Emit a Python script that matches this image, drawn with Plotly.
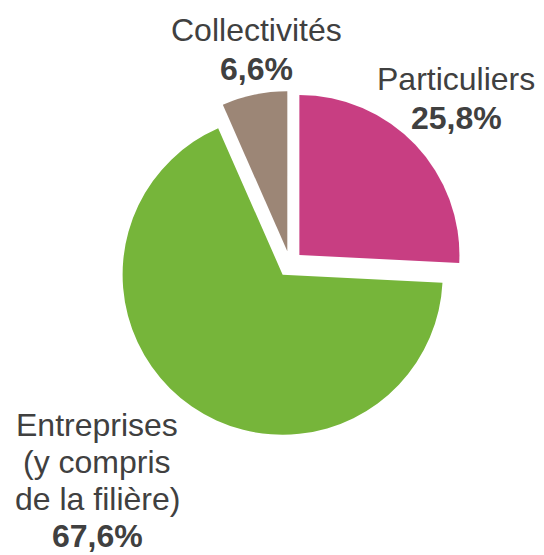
import plotly.graph_objects as go

labels = ["Particuliers", "Entreprises (y compris de la filière)", "Collectivités"]
label_lines = [["Particuliers"], ["Entreprises", "(y compris", "de la filière)"], ["Collectivités"]]
values = [25.8, 67.6, 6.6]
colors = ["#C83E82", "#76B53A", "#9C8676"]
pulls = [0.081, 0.081, 0.081]

# page has an 8px body margin: the figure is drawn 8px in from the window edge
OFF = 8
W, H = 544 - 2 * OFF, 555 - OFF
cx, cy, D = 290 - OFF, 264 - OFF, 346


def px(x):
    return x / W


def py(y):
    return (H - y) / H


fig = go.Figure(go.Pie(
    labels=labels, values=values, sort=False, direction="clockwise", rotation=0,
    marker=dict(colors=colors, line=dict(width=0)), pull=pulls,
    textinfo="none", hoverinfo="label+percent", showlegend=False,
    domain=dict(x=[px(cx - D / 2), px(cx + D / 2)],
                y=[py(cy + D / 2), py(cy - D / 2)]),
))

# (x centre, y of first line, line step) in window pixels
label_pos = [(456, 79, 39), (97, 425, 37), (256, 30, 39)]
font = dict(size=32, color="#404040", family="Liberation Sans, Arial, sans-serif")
for lines, v, (x, y0, step) in zip(label_lines, values, label_pos):
    texts = list(lines) + ["<b>" + f"{v:.1f}".replace(".", ",") + "%</b>"]
    for i, t in enumerate(texts):
        fig.add_annotation(x=px(x - OFF), y=py(y0 + i * step - OFF), xref="paper", yref="paper",
                           text=t, showarrow=False, xanchor="center", yanchor="middle",
                           font=font)

fig.update_layout(width=W, height=H, margin=dict(l=0, r=0, t=0, b=0),
                  paper_bgcolor="white", plot_bgcolor="white")
fig.write_html("out.html")
